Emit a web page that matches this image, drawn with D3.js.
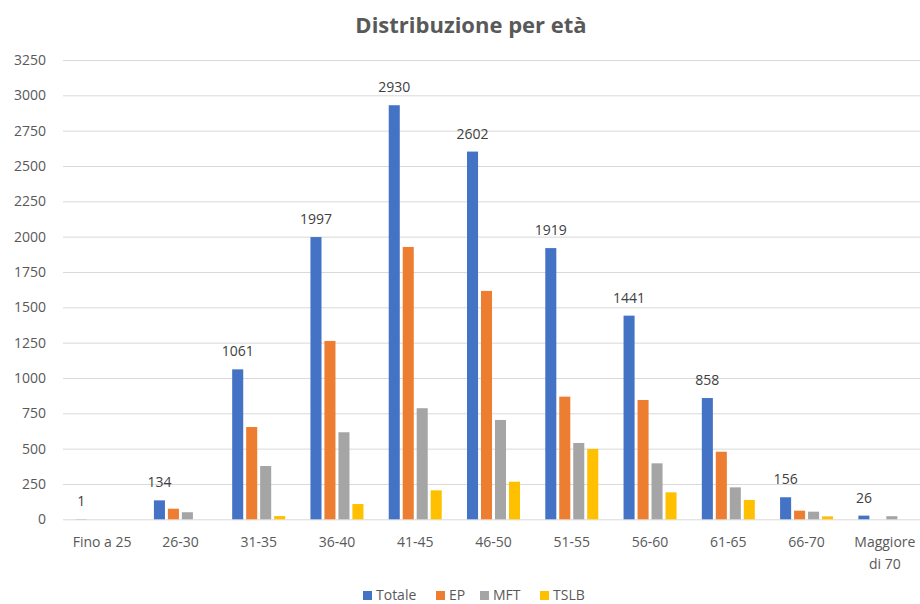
<!DOCTYPE html>
<html><head><meta charset="utf-8">
<script src="https://cdn.jsdelivr.net/npm/d3@7"></script>
<style>
html,body{margin:0;padding:0;background:#fff;}
svg{display:block;font-family:"Open Sans","Noto Sans",sans-serif;}
</style></head>
<body>
<svg id="chart" width="920" height="604"></svg>
<script>
const categories = ["Fino a 25","26-30","31-35","36-40","41-45","46-50","51-55","56-60","61-65","66-70","Maggiore di 70"];
const seriesNames = ["Totale","EP","MFT","TSLB"];
const totale = [1,134,1061,1997,2930,2602,1919,1441,858,156,26];
const ep     = [0,75,653,1262,1927,1616,868,844,478,61,0];
const mft    = [0,50,377,616,786,703,540,396,226,54,22];
const tslb   = [0,0,23,108,205,266,498,191,137,21,0];
const yTicks = [0,250,500,750,1000,1250,1500,1750,2000,2250,2500,2750,3000,3250];
const colors = ["#4472C4","#ED7D31","#A5A5A5","#FFC000"];
const values = [totale, ep, mft, tslb];

const svg = d3.select("#chart");
const plot = {left:63, right:924, top:60, bottom:519.3};

const x0 = d3.scaleBand().domain(categories).range([plot.left, plot.right]).paddingInner(0).paddingOuter(0);
const x1 = d3.scaleBand().domain(seriesNames).range([-26.5, 26.5]).paddingInner(0.21);
const y = d3.scaleLinear().domain([0,3250]).range([plot.bottom, plot.top]);

// gridlines
const yAxis = d3.axisLeft(y).tickValues(yTicks).tickFormat(d3.format("d"))
  .tickSize(-(plot.right-plot.left)).tickPadding(17);
const gy = svg.append("g").attr("transform",`translate(${plot.left},0)`).call(yAxis);
gy.select(".domain").remove();
gy.selectAll(".tick line").attr("stroke","#d9d9d9").attr("stroke-width",1);
gy.selectAll(".tick text").attr("fill","#595959").style("font-size","14px").attr("font-family","\"Open Sans\",sans-serif");

// bars
const groups = svg.append("g").selectAll("g").data(categories).join("g")
  .attr("transform", d => `translate(${x0(d)+x0.bandwidth()/2},0)`);
groups.selectAll("rect").data((c,i) => seriesNames.map((s,j)=>({s, v: values[j][i]})))
  .join("rect")
  .attr("x", d => x1(d.s))
  .attr("width", x1.bandwidth())
  .attr("y", d => y(d.v))
  .attr("height", d => y(0)-y(d.v))
  .attr("fill", (d,j) => colors[j]);

// data labels for Totale
groups.append("text")
  .attr("x", x1("Totale")+x1.bandwidth()/2)
  .attr("y", (c,i) => y(totale[i]) - 13)
  .attr("text-anchor","middle")
  .attr("fill","#404040")
  .style("font-size","14px")
  .text((c,i) => totale[i]);

// x axis labels
const gx = svg.append("g");
categories.forEach(c => {
  const cx = x0(c)+x0.bandwidth()/2;
  const words = c === "Maggiore di 70" ? ["Maggiore","di 70"] : [c];
  words.forEach((w,k) => {
    gx.append("text").attr("x",cx).attr("y",547 + k*22)
      .attr("text-anchor","middle").attr("fill","#595959")
      .style("font-size","14px").text(w);
  });
});

// title
svg.append("text").attr("x",471).attr("y",33).attr("text-anchor","middle")
  .attr("fill","#595959").style("font-size","22px").style("font-weight","bold")
  .text("Distribuzione per età");

// legend
const legendX = [363,436,480,540];
const lg = svg.append("g");
seriesNames.forEach((s,j) => {
  lg.append("rect").attr("x",legendX[j]).attr("y",591).attr("width",9).attr("height",9).attr("fill",colors[j]);
  lg.append("text").attr("x",legendX[j]+13).attr("y",600).attr("fill","#595959")
    .style("font-size","14px").text(s);
});
</script>
</body></html>
